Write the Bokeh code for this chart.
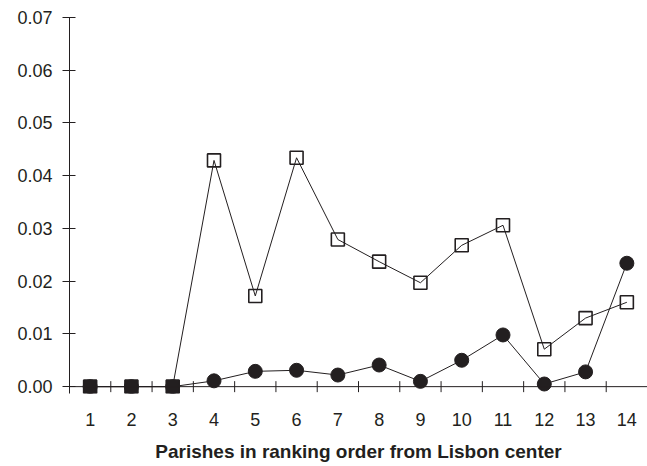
import math
from bokeh.plotting import figure
from bokeh.models import FixedTicker, Range1d, PrintfTickFormatter, ColumnDataSource, Span
from bokeh.embed import file_html
from bokeh.resources import INLINE

parishes = list(range(1, 15))
squares = [0.0, 0.0, 0.0, 0.0429, 0.0172, 0.0434, 0.0279, 0.0237, 0.0197, 0.0268, 0.0306, 0.0071, 0.0130, 0.0160]
circles = [0.0, 0.0, 0.0, 0.0011, 0.0029, 0.0031, 0.0022, 0.0041, 0.0010, 0.0050, 0.0098, 0.0005, 0.0028, 0.0234]
y_ticks = [0.0, 0.01, 0.02, 0.03, 0.04, 0.05, 0.06, 0.07]
x_label = "Parishes in ranking order from Lisbon center"

INK = "#231f20"
FONT = "Liberation Sans"

sq_fill_alpha = [1.0 if (s == 0 and c == 0) else 0.0 for s, c in zip(squares, circles)]
src = ColumnDataSource(dict(x=parishes, sq=squares, ci=circles, sqa=sq_fill_alpha))
between = [i + 0.5 for i in parishes[:-1]]

p = figure(width=647, height=466, output_backend="svg", toolbar_location=None,
           x_range=Range1d(0.5, 14.5), y_range=Range1d(-0.0013, 0.07),
           min_border_left=69, min_border_right=0, min_border_top=17, min_border_bottom=73)
p.outline_line_color = None
p.grid.visible = False
p.background_fill_color = "white"

# x axis line at zero with tick marks between categories
p.add_layout(Span(location=0, dimension="width", line_color=INK, line_width=1))
p.scatter(x=between, y=[0] * len(between), marker="dash", size=11, angle=math.pi / 2,
          line_color=INK, line_width=1)

p.line("x", "ci", source=src, line_color=INK, line_width=1)
p.line("x", "sq", source=src, line_color=INK, line_width=1)
p.scatter("x", "ci", source=src, marker="circle", size=14, fill_color=INK, line_color=INK, line_width=1)
p.scatter("x", "sq", source=src, marker="square", size=13, fill_color=INK, fill_alpha="sqa",
          line_color=INK, line_width=1.6)

xa = p.xaxis[0]
xa.ticker = FixedTicker(ticks=parishes, minor_ticks=[])
xa.axis_line_color = None
xa.major_tick_line_color = None
xa.minor_tick_line_color = None
xa.major_tick_in = 0
xa.major_tick_out = 0
xa.major_label_standoff = 19
xa.major_label_text_font = FONT
xa.major_label_text_font_size = "18px"
xa.major_label_text_color = INK
xa.axis_label = x_label
xa.axis_label_text_font = FONT
xa.axis_label_text_font_style = "bold"
xa.axis_label_text_font_size = "19px"
xa.axis_label_text_color = INK
xa.axis_label_standoff = 12

ya = p.yaxis[0]
ya.ticker = FixedTicker(ticks=y_ticks, minor_ticks=[])
ya.formatter = PrintfTickFormatter(format="%.2f")
ya.major_tick_in = 6
ya.major_tick_out = 7
ya.major_tick_line_color = INK
ya.axis_line_color = INK
ya.major_label_standoff = 10
ya.major_label_text_font = FONT
ya.major_label_text_font_size = "18px"
ya.major_label_text_color = INK

open("out.html", "w").write(file_html(p, INLINE))
